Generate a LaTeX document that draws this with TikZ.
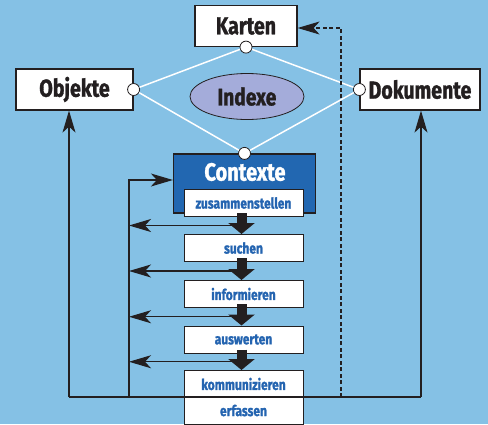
\documentclass[tikz,border=0pt]{standalone}
\usepackage{fontspec}
\setmainfont{Fira Sans}[FakeStretch=0.8,BoldFeatures={FakeBold=1.2}]
\usetikzlibrary{arrows.meta,shapes.geometric}

\definecolor{bgblue}{RGB}{133,193,229}
\definecolor{ink}{RGB}{35,31,32}
\definecolor{ctxblue}{RGB}{34,103,177}
\definecolor{txtblue}{RGB}{36,100,176}
\definecolor{idxfill}{RGB}{164,172,218}

\begin{document}
\begin{tikzpicture}
  [x=1pt,y=-1pt,
   box/.style={rectangle,draw=ink,fill=white,line width=1.2pt,inner sep=0pt,
     minimum height=41pt,text=ink,font=\bfseries\fontsize{24.5}{24.5}\selectfont},
   act/.style={rectangle,draw=ink,fill=white,line width=1pt,inner sep=0pt,
     minimum width=119pt,minimum height=27pt,text=txtblue,
     font=\bfseries\fontsize{15}{15}\selectfont},
   joint/.style={circle,draw=ink,fill=white,line width=.8pt,inner sep=0pt,minimum size=12pt},
   web/.style={white,line width=1.5pt},
   wire/.style={ink,line width=1.2pt},
   tip/.style={-{Stealth[length=22pt,width=13pt,inset=6pt]}},
   fat/.style={ink,line width=10pt,-{Triangle[width=26pt,length=11pt]},shorten <=-4pt}]

  \fill[bgblue] (0,0) rectangle (488,424);
  \useasboundingbox (0,0) rectangle (488,424);

  % index triangle
  \node[box,minimum width=102pt] (karten) at (246,26) {Karten};
  \node[box,minimum width=117pt] (objekte) at (74.5,89.5) {Objekte};
  \node[box,minimum width=120pt] (dokumente) at (420,89.5) {Dokumente};
  \node[ellipse,draw=ink,fill=idxfill,line width=.8pt,minimum width=114pt,minimum height=46pt,
    text=ink,font=\bfseries\fontsize{24}{24}\selectfont] (indexe) at (247,96.5) {Indexe};

  \node[rectangle,draw=ink,fill=ctxblue,line width=1.2pt,minimum width=142pt,minimum height=59pt]
    (contexte) at (244.5,183.5) {};
  \node[text=white,font=\bfseries\fontsize{25}{25}\selectfont] (ctxtitle) at (245,172) {Contexte};

  % activities
  \node[act] (zus) at (243.5,203) {zusammenstellen};
  \node[act] (such) at (243.5,248) {suchen};
  \node[act] (info) at (243.5,294) {informieren};
  \node[act] (ausw) at (243.5,339.5) {auswerten};
  \node[act] (komm) at (243.5,384) {kommunizieren};
  \node[act] (erf) at (243.5,410.5) {erfassen};

  \node[joint] (jk) at (karten.south) {};
  \node[joint] (jo) at (objekte.east) {};
  \node[joint] (jd) at (dokumente.west) {};
  \node[joint] (jc) at (contexte.north) {};
  \foreach \from/\to in {jk/jo, jk/jd, jo/jc, jd/jc}
    \draw[web] (\from) -- (\to);

  % feedback lines
  \coordinate (bl) at (69,397);
  \coordinate (bi) at (129,397);
  \coordinate (bd) at (341,397);
  \coordinate (br) at (421,397);
  \coordinate (ci) at (129,180);
  \coordinate (dt) at (341,28);
  \draw[wire] (bl) -- (br);
  \draw[wire,tip] (bl) -- (bl |- objekte.south);
  \draw[wire,tip] (br) -- (br |- dokumente.south);
  \draw[wire,tip] (bi) -- (ci) -- (ci -| contexte.west);
  \draw[wire,line width=1.1pt,dash pattern=on 4pt off 2.5pt,tip] (bd) -- (dt) -- (dt -| karten.east);

\foreach \from/\to in {zus/such, such/info, info/ausw, ausw/komm} {
    \path (\from.south) -- (\to.north) coordinate[pos=.5] (mid);
    \draw[wire,tip] (mid) -- (mid -| bi);
    \draw[fat] ([xshift=-2pt]\from.south) -- ([xshift=-2pt]\to.north);
}
\end{tikzpicture}
\end{document}
